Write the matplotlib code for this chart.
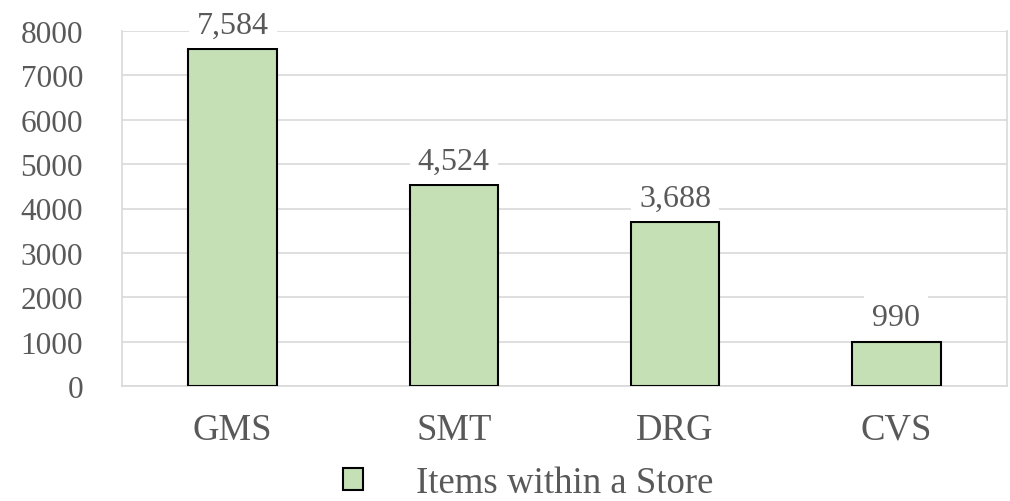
import matplotlib
matplotlib.use("Agg")
import matplotlib.pyplot as plt
from matplotlib.patches import Patch

categories = ["GMS", "SMT", "DRG", "CVS"]
items = [7584, 4524, 3688, 990]
series_name = "Items within a Store"
y_ticks = [0, 1000, 2000, 3000, 4000, 5000, 6000, 7000, 8000]

text_color = "#595959"
grid_color = "#d9d9d9"
bar_color = "#c5e0b4"

plt.rcParams["font.family"] = ["Liberation Serif", "DejaVu Serif"]

fig = plt.figure(figsize=(10.10, 5.02), dpi=100)
ax = fig.add_axes([122 / 1010, 1 - 387 / 502, (1007 - 122) / 1010, (387 - 32) / 502])

x = range(len(categories))
ax.bar(x, items, width=0.4, color=bar_color, edgecolor="black", linewidth=1.5, zorder=3)

ax.set_xlim(-0.5, len(categories) - 0.5)
ax.set_ylim(0, 8000)
ax.set_yticks(y_ticks)
ax.set_yticklabels([str(t) for t in y_ticks])
ax.set_xticks(list(x))
ax.set_xticklabels(categories)
ax.yaxis.grid(True, color=grid_color, linewidth=1.2, zorder=0)
ax.set_axisbelow(True)

for side in ["left", "right", "bottom"]:
    ax.spines[side].set_color(grid_color)
    ax.spines[side].set_linewidth(1.2)
ax.spines["top"].set_visible(False)

ax.tick_params(axis="both", length=0, labelcolor=text_color)
ax.tick_params(axis="y", labelsize=22.5, pad=28)
ax.tick_params(axis="x", labelsize=26.5, pad=19)

for xi, v in zip(x, items):
    ax.annotate(f"{v:,}", xy=(xi, v), xytext=(0, 7), textcoords="offset points",
                ha="center", va="bottom", fontsize=23, color=text_color, zorder=5,
                bbox=dict(boxstyle="square,pad=0.25", fc="white", ec="none"))

handle = Patch(facecolor=bar_color, edgecolor="black", linewidth=1.5)
fig.legend([handle], [series_name], loc="center", bbox_to_anchor=(528.5 / 1010, 1 - 484 / 502),
           frameon=False, fontsize=26.5, labelcolor=text_color, borderpad=0, borderaxespad=0,
           handlelength=0.54, handleheight=0.54, handletextpad=1.44)

fig.savefig("out.png", dpi=100)
